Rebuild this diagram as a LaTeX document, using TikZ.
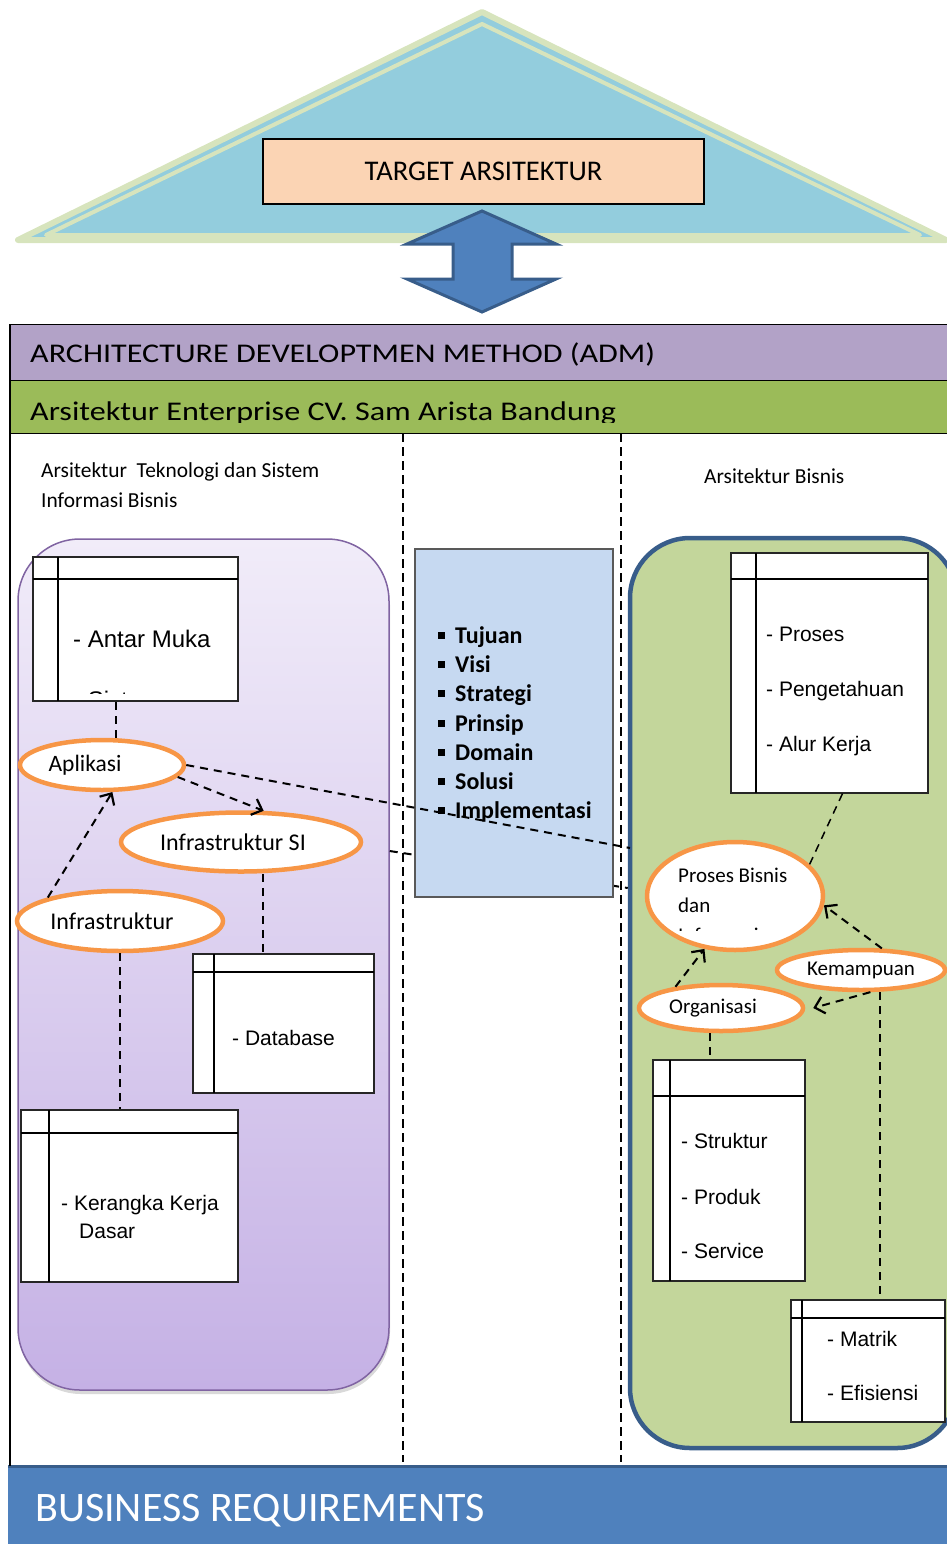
\documentclass[tikz,border=0pt]{standalone}
\usepackage{fontspec}
\setmainfont{Carlito}
\newfontfamily\arialfont{Liberation Sans}
\newfontfamily\lebarfont[FakeStretch=1.19]{Carlito}
\usetikzlibrary{arrows.meta,shapes.geometric,shadows,fit}
\definecolor{segitiga}{HTML}{93CDDD}
\definecolor{hijaumuda}{HTML}{D7E4BD}
\definecolor{persik}{HTML}{FBD4B4}
\definecolor{biru}{HTML}{4F81BD}
\definecolor{birutua}{HTML}{385D8A}
\definecolor{ungu}{HTML}{B2A2C7}
\definecolor{unguatas}{HTML}{F1ECF9}
\definecolor{ungubawah}{HTML}{C5B1E5}
\definecolor{ungutepi}{HTML}{8064A2}
\definecolor{hijau}{HTML}{9BBB59}
\definecolor{hijaukotak}{HTML}{C3D69B}
\definecolor{birumuda}{HTML}{C6D9F1}
\definecolor{oranye}{HTML}{F79646}
\tikzset{
  bar/.style={draw, line width=1.2pt, anchor=north west, minimum width=960, inner sep=0pt},
  judul/.style={font=\lebarfont\fontsize{27}{32}\selectfont, inner sep=0pt, anchor=base west},
  kepala/.style={font=\fontsize{21.4}{25}\selectfont, inner sep=0pt, anchor=base west},
  elips/.style={ellipse, draw=oranye, line width=4.5pt, fill=white, inner sep=0pt},
  tabel/.style={draw=black!85, line width=1.2pt, fill=white, inner sep=0pt},
  isi/.style={font=\arialfont\fontsize{21}{25}\selectfont, inner sep=0pt, anchor=base west},
  poin/.style={font=\bfseries\fontsize{24}{28}\selectfont, inner sep=0pt, anchor=base west},
  garis/.style={line width=2pt, dash pattern=on 8pt off 6pt},
  tipis/.style={line width=1.5pt, dash pattern=on 8pt off 6pt},
  panah/.style={garis, -{Straight Barb[length=9pt, width=17pt, line width=2.2pt]}},
  pembatas/.style={line width=1.3pt, dash pattern=on 9pt off 5pt}
}
\def\tabel(#1)(#2,#3)(#4,#5)(#6,#7){%
  \node[tabel, fit={(#2,#3) (#4,#5)}] (#1) {};
  \draw[line width=1.2pt] (#2,#6) -- (#4,#6);
  \draw[line width=1.2pt] (#7,#3) -- (#7,#5);}

\begin{document}
\begin{tikzpicture}[x=1pt, y=-1pt]
	\useasboundingbox (0,0) rectangle (947,1544);
	%%%%% TARGET %%%%%
	\draw[fill=segitiga, draw=hijaumuda, line width=6pt, line join=round] (482,12) -- (946,240) -- (18,240) -- cycle;
	\draw[hijaumuda, line width=4pt, line join=round] (482,24) -- (920,235) -- (46,235) -- cycle;
	\node[draw, line width=1.2pt, fill=persik, minimum width=441, minimum height=65, font=\fontsize{28.5}{32}\selectfont] (target) at (483.5,171.5) {TARGET ARSITEKTUR};
	\draw[fill=biru, draw=birutua, line width=3pt] (482,211) -- (556,244) -- (512,244) -- (512,279) -- (556,279) -- (482,312) -- (407,279) -- (453,279) -- (453,244) -- (407,244) -- cycle;
	
	%%%%% ADM %%%%%
	\node[bar, fill=ungu, minimum height=56] (adm) at (10,324) {};
	\node[judul] (admteks) at (30,362) {ARCHITECTURE DEVELOPTMEN METHOD (ADM)};
	\node[bar, fill=hijau, minimum height=53] (ae) at (10,380) {};
	\begin{scope}
		\clip (10,380) rectangle (960,422);
		\node[judul] (aeteks) at (30,420) {Arsitektur Enterprise CV. Sam Arista Bandung};
	\end{scope}
	
	\draw[pembatas] (403,433) -- (403,1462);
	\draw[pembatas] (621,433) -- (621,1462);
	
	\node[kepala] (tsi1) at (41,477) {Arsitektur\ \ Teknologi dan Sistem};
	\node[kepala] (tsi2) at (41,507) {Informasi Bisnis};
	\node[kepala] (abteks) at (704,483) {Arsitektur Bisnis};
	
	%%%%% KOTAK %%%%%
	\node[draw=ungutepi, line width=1.5pt, rounded corners=62pt, top color=unguatas, bottom color=ungubawah, minimum width=371, minimum height=851, drop shadow={shadow xshift=1pt, shadow yshift=-4pt, opacity=0.3}] (tsi) at (203.5,964.5) {};
	\node[draw=birutua, line width=4.5pt, rounded corners=60pt, fill=hijaukotak, minimum width=327, minimum height=910] (bisnis) at (793.5,993) {};
	\draw[garis] (tsi.east |- 0,851) -- (bisnis.west |- 0,888);
	\node[draw=black!65, line width=1.2pt, fill=birumuda, minimum width=198, minimum height=348] (blok) at (514,723) {};
	\node[poin] (p1) at (438,643) {\rule[4pt]{7pt}{7pt}\hspace{10pt}Tujuan};
	\node[poin] (p2) at (438,672) {\rule[4pt]{7pt}{7pt}\hspace{10pt}Visi};
	\node[poin] (p3) at (438,701) {\rule[4pt]{7pt}{7pt}\hspace{10pt}Strategi};
	\node[poin] (p4) at (438,731) {\rule[4pt]{7pt}{7pt}\hspace{10pt}Prinsip};
	\node[poin] (p5) at (438,760) {\rule[4pt]{7pt}{7pt}\hspace{10pt}Domain};
	\node[poin] (p6) at (438,789) {\rule[4pt]{7pt}{7pt}\hspace{10pt}Solusi};
	\node[poin] (p7) at (438,818) {\rule[4pt]{7pt}{7pt}\hspace{10pt}Implementasi};
	
	%%%%% TEKNOLOGI %%%%%
	\tabel(antarmuka)(33,557)(238,701)(579,58)
	\node[isi, font=\arialfont\fontsize{24}{28}\selectfont] (am) at (73,647) {- Antar Muka};
	\begin{scope}
		\clip (33,557) rectangle (238,693);
		\node[isi, font=\arialfont\fontsize{24}{28}\selectfont] (sistem) at (73,708) {- Sistem};
	\end{scope}
	\tabel(database)(193,954)(374,1093)(972,214)
	\node[isi] (db) at (232,1045) {- Database};
	\tabel(kerangka)(21,1110)(238,1282)(1133,49)
	\node[isi] (kk1) at (61,1210) {- Kerangka Kerja};
	\node[isi] (kk2) at (79,1238) {Dasar};
	
	\node[elips, minimum width=164, minimum height=50, font=\fontsize{23.5}{27}\selectfont] (aplikasi) at (102,765) {Aplikasi\kern34pt};
	\node[elips, minimum width=240, minimum height=59, font=\fontsize{24}{27}\selectfont] (infrasi) at (241,842) {Infrastruktur SI\kern16pt};
	\node[elips, minimum width=206, minimum height=60, font=\fontsize{24}{27}\selectfont] (infra) at (120,921) {Infrastruktur\kern16pt};
	
	\draw[tipis] ([xshift=14pt]aplikasi.north) -- ([xshift=14pt]aplikasi.north |- antarmuka.south);
	\draw[panah] (aplikasi.-9) -- (infrasi.54);
	\draw[panah] (infra.162) -- (aplikasi.-69);
	\draw[tipis] ([xshift=22pt]infrasi.south) -- ([xshift=22pt]infrasi.south |- database.north);
	\draw[tipis] (infra.south) -- (infra.south |- kerangka.north);
	\coordinate (ujung) at (630,848);
	\draw[garis] (aplikasi.east) -- (ujung);
	
	%%%%% BISNIS %%%%%
	\tabel(proses)(731,553)(928,793)(579,756)
	\node[isi] (pr1) at (766,641) {- Proses};
	\node[isi] (pr2) at (766,696) {- Pengetahuan};
	\node[isi] (pr3) at (766,751) {- Alur Kerja};
	\tabel(struktur)(653,1060)(805,1281)(1096,670)
	\node[isi] (st1) at (681,1148) {- Struktur};
	\node[isi] (st2) at (681,1204) {- Produk};
	\node[isi] (st3) at (681,1258) {- Service};
	\tabel(matrik)(791,1300)(945,1422)(1318,802)
	\node[isi] (mt1) at (827,1346) {- Matrik};
	\node[isi] (mt2) at (827,1400) {- Efisiensi};
	
	\node[elips, minimum width=176, minimum height=108] (pbi) at (735,896) {};
	\begin{scope}
		\clip (650,845) rectangle (822,930.5);
		\node[kepala, font=\fontsize{21}{25}\selectfont] (pb1) at (678,882) {Proses Bisnis};
		\node[kepala, font=\fontsize{21}{25}\selectfont] (pb2) at (678,912) {dan};
		\node[kepala, font=\fontsize{21}{25}\selectfont] (pb3) at (678,942) {Informasi};
	\end{scope}
	\node[elips, minimum width=168, minimum height=40, font=\fontsize{21}{25}\selectfont] (kemampuan) at (861,970) {\raisebox{-3pt}{Kemampuan}};
	\node[elips, minimum width=164, minimum height=46, font=\fontsize{21}{25}\selectfont] (organisasi) at (721,1008) {Organisasi\kern16pt};
	
	\draw[tipis] ([xshift=13pt]proses.south) -- (pbi.23);
	\draw[panah] (kemampuan.46) -- (pbi.-6);
	\draw[panah] (kemampuan.-67) -- ([xshift=8pt]organisasi.east);
	\draw[panah] (organisasi.155) -- (pbi.-120);
	\draw[tipis] ([xshift=19pt]kemampuan.south) -- ([xshift=19pt]kemampuan.south |- matrik.north);
	\draw[tipis] ([xshift=-11pt]organisasi.south) -- ([xshift=-11pt]organisasi.south |- struktur.north);
	
	%%%%% BUSINESS REQUIREMENTS %%%%%
	\node[fill=biru, anchor=north west, minimum width=960, minimum height=80, inner sep=0pt] (br) at (8,1466) {};
	\draw[birutua, line width=3pt] (br.north west) -- (br.north east);
	\node[anchor=base west, inner sep=0pt, text=white, font=\fontsize{42}{46}\selectfont] (brteks) at (35,1521) {BUSINESS REQUIREMENTS};
	\draw[line width=1.2pt] (adm.north west) -- (adm.north west |- br.north);
\end{tikzpicture}
\end{document}
